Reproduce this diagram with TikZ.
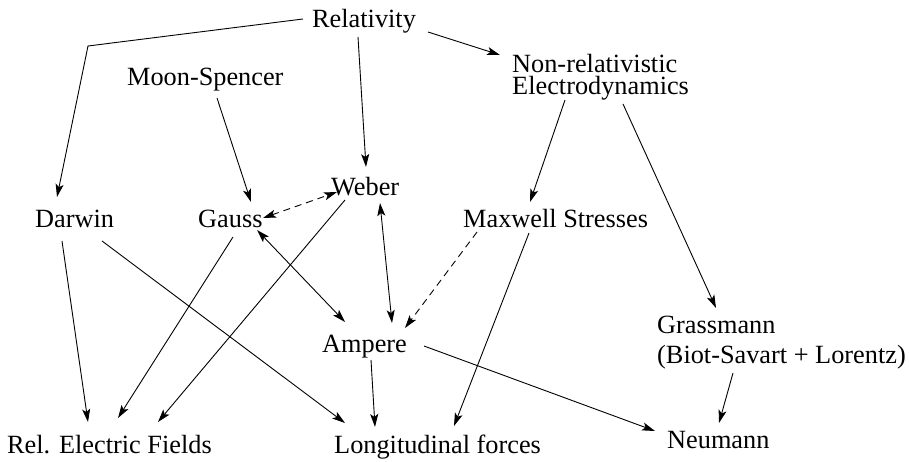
\documentclass[tikz,border=0pt]{standalone}
\usepackage{fontspec}
\setmainfont{Liberation Serif}
\usetikzlibrary{arrows.meta}
\begin{document}
\begin{tikzpicture}[x=1pt,y=-1pt,
  label/.style={anchor=base west,inner sep=0pt,font=\fontsize{26.3}{30}\selectfont},
  tip/.style={Stealth[length=13pt,width=8pt,inset=3pt]},
  link/.style={line width=0.9pt,-{Stealth[length=13pt,width=8pt,inset=3pt]}},
  both/.style={line width=0.9pt,{Stealth[length=13pt,width=8pt,inset=3pt]}-{Stealth[length=13pt,width=8pt,inset=3pt]}},
  weak/.style={dash pattern=on 7pt off 5pt}]
\useasboundingbox (0,0) rectangle (909,462);

% concepts (multi-line labels sit on the baseline of their last line)
\node[label] (rel)       at (312,28)  {Relativity};
\node[label] (moon)      at (127,86)  {Moon-Spencer};
\node[label,align=left] (nonrel) at (512,95) {Non-relativistic\\[-8pt]Electrodynamics};
\node[label] (darwin)    at (35,227)  {Darwin};
\node[label] (gauss)     at (198,227) {Gauss};
\node[label] (weber)     at (331,196) {Weber};
\node[label] (maxwell)   at (463,227) {Maxwell Stresses};
\node[label] (ampere)    at (322,352) {Ampere};
\node[label,align=left] (grass) at (657,363) {Grassmann\\(Biot-Savart + Lorentz)};
\node[label] (relfields) at (7,453)   {Rel. Electric Fields};
\node[label] (longi)     at (334,453) {Longitudinal forces};
\node[label] (neumann)   at (667,448) {Neumann};

\coordinate (bend) at (88,46);

% derivations
\draw[link] ([shift={(-9,-9)}]rel.base west) -- (bend) -- ([shift={(22,-30)}]darwin.base west);
\draw[link] ([shift={(46,9)}]rel.base west) -- ([shift={(35,-29)}]weber.base west);
\draw[link] ([shift={(116,4)}]rel.base west) -- ([shift={(-12,-40)}]nonrel.base west);
\draw[link] ([shift={(90,12)}]moon.base west) -- ([shift={(53,-25)}]gauss.base west);
\draw[both,weak] ([shift={(65,-9)}]gauss.base west) -- ([shift={(6,-4)}]weber.base west);
\draw[link] ([shift={(53,5)}]nonrel.base west) -- ([shift={(67,-25)}]maxwell.base west);
\draw[link] ([shift={(111,9)}]nonrel.base west) -- ([shift={(59,-55)}]grass.base west);
\draw[link] ([shift={(27,14)}]darwin.base west) -- ([shift={(81,-31)}]relfields.base west);
\draw[link] ([shift={(67,14)}]darwin.base west) -- ([shift={(11,-30)}]longi.base west);
\draw[link] ([shift={(35,10)}]gauss.base west) -- ([shift={(111,-35)}]relfields.base west);
\draw[link] ([shift={(14,4)}]weber.base west) -- ([shift={(151,-31)}]relfields.base west);
\draw[both] ([shift={(59,3)}]gauss.base west) -- ([shift={(23,-30)}]ampere.base west);
\draw[both] ([shift={(49,7)}]weber.base west) -- ([shift={(70,-29)}]ampere.base west);
\draw[link,weak] ([shift={(14,5)}]maxwell.base west) -- ([shift={(83,-24)}]ampere.base west);
\draw[link] ([shift={(49,8)}]ampere.base west) -- ([shift={(41,-26)}]longi.base west);
\draw[link] ([shift={(102,-6)}]ampere.base west) -- ([shift={(-12,-17)}]neumann.base west);
\draw[link] ([shift={(66,6)}]maxwell.base west) -- ([shift={(120,-27)}]longi.base west);
\draw[link] ([shift={(76,10)}]grass.base west) -- ([shift={(52,-25)}]neumann.base west);
\end{tikzpicture}
\end{document}
